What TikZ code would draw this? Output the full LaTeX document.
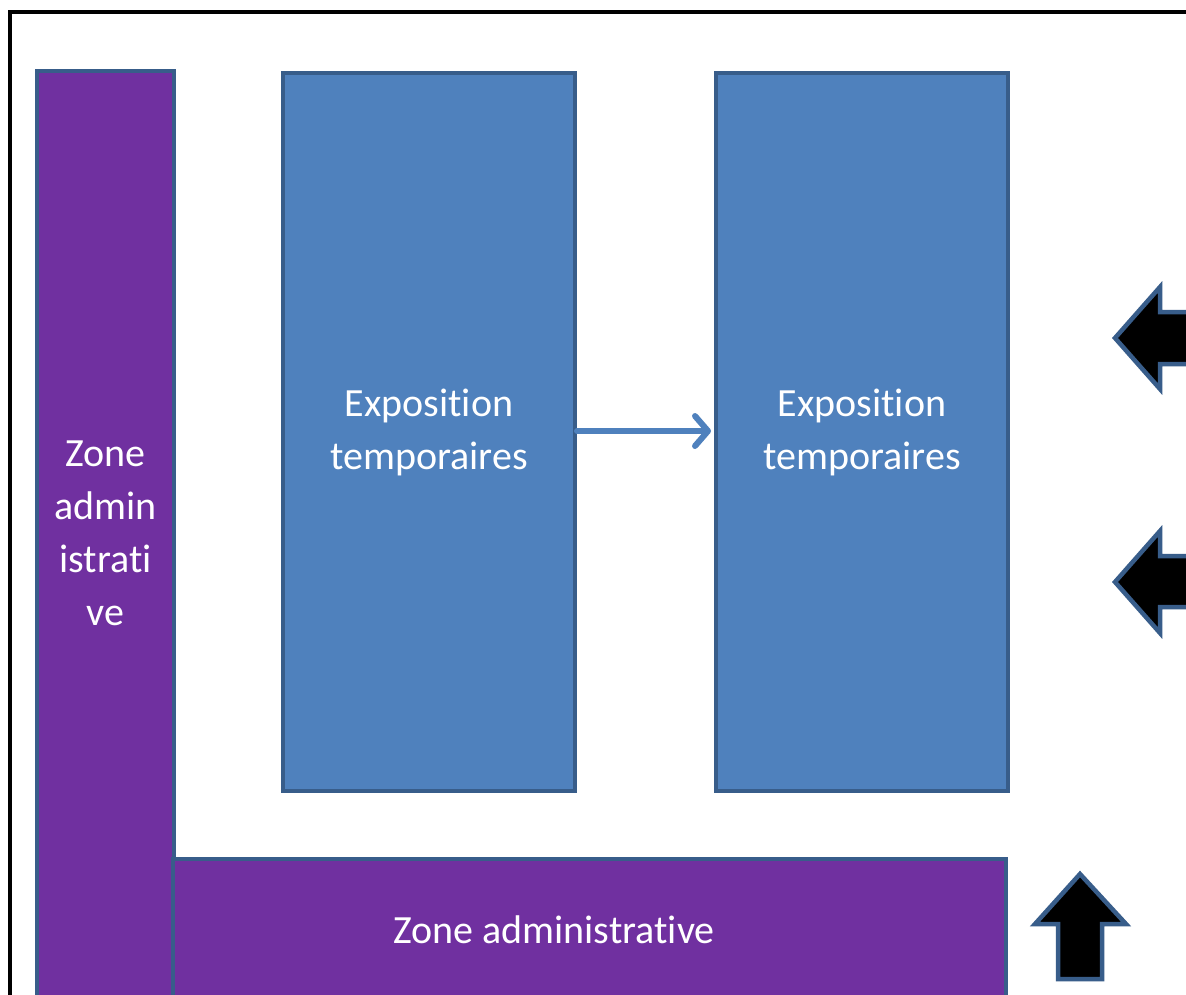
\documentclass[tikz,border=0pt]{standalone}
\usepackage{fontspec}
\setmainfont{Carlito}[Ligatures=NoCommon]
\usetikzlibrary{arrows.meta}
\definecolor{zpurple}{HTML}{7030A0}
\definecolor{zblue}{HTML}{4F81BD}
\definecolor{zedge}{HTML}{385D8A}
\tikzset{
  zonebox/.style={draw=zedge, line width=4pt, fill=zpurple},
  expobox/.style={draw=zedge, line width=4pt, fill=zblue},
  lbl/.style={text=white, font=\fontsize{40}{53}\selectfont, align=center, inner sep=0pt},
  bigarrow/.style={draw=zedge, line width=4.5pt, fill=black, line join=miter},
  flow/.style={draw=zblue, line width=6pt, line cap=round, -{Straight Barb[length=13pt,width=30pt,line width=6pt,round]}}
}
\begin{document}
\begin{tikzpicture}[x=1pt,y=-1pt]
\useasboundingbox (0,0) rectangle (1186,994);
\clip (0,0) rectangle (1186,994);
\fill[white] (0,0) rectangle (1186,994);
\draw[line width=3.5pt] (10,12) rectangle (1300,1100);
% vertical zone
\draw[zonebox] (37,71) rectangle (174,1040);
\node[lbl] (zv) at (105.5,533) {Zone\\admin\\istrati\\ve};
% horizontal zone
\draw[zonebox] (173,859) rectangle (1006,1040);
\node[lbl] (zh) at (554,930) {Zone administrative};
% expo boxes
\node[expobox, minimum width=292pt, minimum height=718pt, inner sep=0pt, anchor=north west] (e1) at (281,71) {};
\node[expobox, minimum width=292pt, minimum height=718pt, inner sep=0pt, anchor=north west] (e2) at (714,71) {};
\node[lbl] at (e1.center) {Exposition\\temporaires};
\node[lbl] at (e2.center) {Exposition\\temporaires};
\draw[flow] (e1.east |- 0,431) -- ([xshift=-3pt]e2.west |- 0,431);
% entrance arrows
\draw[bigarrow] (1115,338) -- (1160,287) -- (1160,312) -- (1250,312) -- (1250,364) -- (1160,364) -- (1160,389) -- cycle;
\draw[bigarrow] (1115,582) -- (1160,531) -- (1160,556) -- (1250,556) -- (1250,607) -- (1160,607) -- (1160,633) -- cycle;
\draw[bigarrow] (1080,874) -- (1126,924) -- (1102,924) -- (1102,979) -- (1058,979) -- (1058,924) -- (1035,924) -- cycle;
\end{tikzpicture}
\end{document}
